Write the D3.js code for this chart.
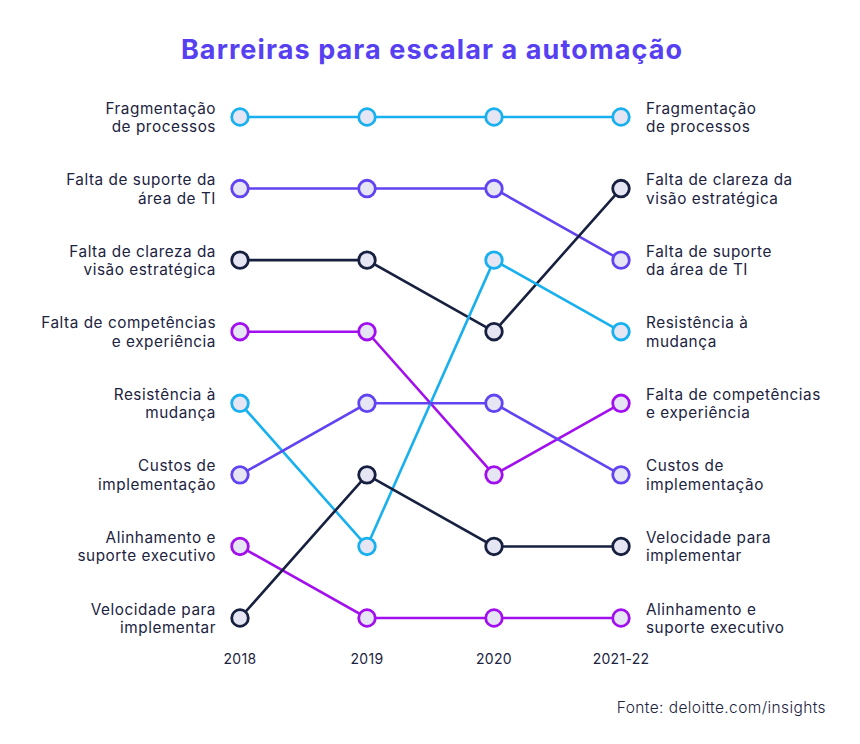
<!DOCTYPE html>
<html><head><meta charset="utf-8">
<script src="https://cdn.jsdelivr.net/npm/d3@7"></script>
<style>
html,body{margin:0;padding:0;background:#fff;}
text{font-family:Inter,"Noto Sans",sans-serif;}
</style></head>
<body><svg id="c" width="860" height="744"></svg>
<script>
const years = ["2018","2019","2020","2021-22"];
const seriesNames = [
  ["Fragmentação","de processos"],
  ["Falta de suporte da","área de TI"],
  ["Falta de clareza da","visão estratégica"],
  ["Falta de competências","e experiência"],
  ["Resistência à","mudança"],
  ["Custos de","implementação"],
  ["Alinhamento e","suporte executivo"],
  ["Velocidade para","implementar"]
];
const rightNames = [
  ["Fragmentação","de processos"],
  ["Falta de suporte","da área de TI"],
  ["Falta de clareza da","visão estratégica"],
  ["Falta de competências","e experiência"],
  ["Resistência à","mudança"],
  ["Custos de","implementação"],
  ["Alinhamento e","suporte executivo"],
  ["Velocidade para","implementar"]
];
const ranks = [
  [1,1,1,1],
  [2,2,2,3],
  [3,3,4,2],
  [4,4,6,5],
  [5,7,3,4],
  [6,5,5,6],
  [7,8,8,8],
  [8,6,7,7]
];
const colors = ["#18b0ee","#6243f2","#17203f","#a20fef","#18b0ee","#6243f2","#a20fef","#17203f"];
const title = "Barreiras para escalar a automação";
const source = "Fonte: deloitte.com/insights";

const svg = d3.select("#c");
const x = d3.scalePoint().domain(years).range([240,621]);
const y = d3.scaleLinear().domain([1,8]).range([117,618]);
const textColor = "#1c2341";

svg.append("text").attr("x",432).attr("y",59).attr("text-anchor","middle")
  .attr("fill","#573ff2").attr("font-size",27).attr("font-weight",700)
  .attr("letter-spacing",1.1).text(title);

const line = d3.line().x(d=>x(d.year)).y(d=>y(d.rank));
const data = ranks.map((r,i)=>({i, pts:r.map((v,j)=>({year:years[j],rank:v}))}));

svg.selectAll("path.l").data(data).join("path").attr("class","l")
  .attr("d",d=>line(d.pts)).attr("fill","none")
  .attr("stroke",d=>colors[d.i]).attr("stroke-width",2.6);

data.forEach(d=>{
  svg.selectAll(null).data(d.pts).join("circle")
    .attr("cx",p=>x(p.year)).attr("cy",p=>y(p.rank)).attr("r",8.3)
    .attr("fill","#e5e5f4").attr("stroke",colors[d.i]).attr("stroke-width",2.8);
});

function label(lines, xx, yy, anchor){
  const t = svg.append("text").attr("text-anchor",anchor).attr("fill",textColor)
    .attr("font-size",15.3).attr("letter-spacing",0.55);
  lines.forEach((s,k)=>{
    t.append("tspan").attr("x",xx).attr("y",yy - 3.5 + k*18.5).text(s);
  });
}
data.forEach(d=>{
  label(seriesNames[d.i], 216, y(d.pts[0].rank), "end");
  label(rightNames[d.i], 646, y(d.pts[3].rank), "start");
});

svg.selectAll("text.yr").data(years).join("text").attr("class","yr")
  .attr("x",d=>x(d)).attr("y",664).attr("text-anchor","middle")
  .attr("fill",textColor).attr("font-size",14).attr("letter-spacing",0.3).text(d=>d);

svg.append("text").attr("x",826).attr("y",713).attr("text-anchor","end")
  .attr("fill",textColor).attr("font-size",15.5).attr("font-weight",300)
  .attr("letter-spacing",0.4).text(source);
</script></body></html>
